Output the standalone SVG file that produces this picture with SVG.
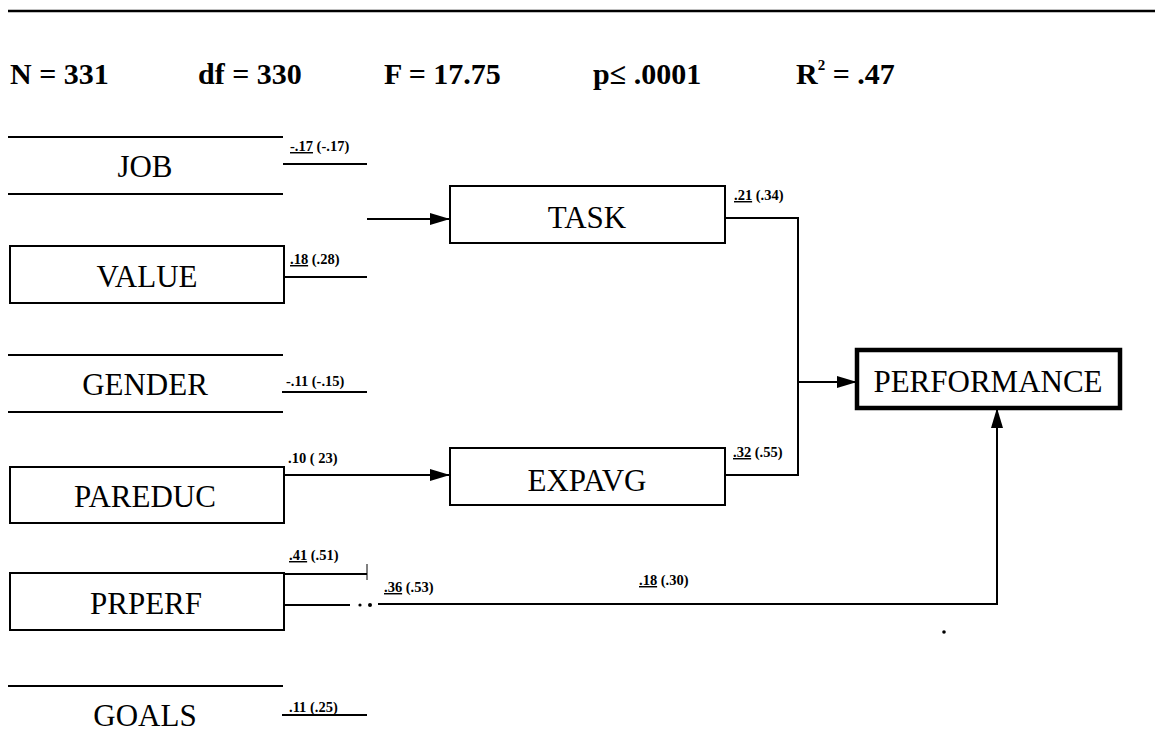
<svg xmlns="http://www.w3.org/2000/svg" width="1155" height="740" viewBox="0 0 1155 740">
<style>
.stat{font-family:"Liberation Serif","Times New Roman",serif;font-weight:bold;font-size:30px;fill:#000}
.node{font-family:"Liberation Serif","Times New Roman",serif;font-size:31px;fill:#000;text-anchor:middle}
.lbl{font-family:"Liberation Serif","Times New Roman",serif;font-weight:bold;font-size:14.5px;fill:#000}
.u{text-decoration:underline}
.ln{stroke:#000;stroke-width:2;fill:none}
.box{stroke:#000;stroke-width:2;fill:#fff}
.light{stroke:#000;stroke-width:1;fill:none}
</style>
<defs>
<marker id="ah" viewBox="0 0 20 12" refX="20" refY="6" markerWidth="20" markerHeight="12" markerUnits="userSpaceOnUse" orient="auto">
<path d="M0,0 L20,6 L0,12 Z" fill="#000"/>
</marker>
</defs>
<rect width="1155" height="740" fill="#fff"/>
<line x1="8" y1="11" x2="1155" y2="11" stroke="#000" stroke-width="2.5"/>
<g id="stats">
<text class="stat" x="10" y="84">N = 331</text>
<text class="stat" x="198" y="84">df = 330</text>
<text class="stat" x="384" y="84">F = 17.75</text>
<text class="stat" x="593" y="84">p≤ .0001</text>
<text class="stat" x="796" y="84">R<tspan font-size="15" dy="-14">2</tspan><tspan dy="14"> = .47</tspan></text>
</g>
<g id="job">
<line class="ln" x1="8" y1="137" x2="283" y2="137"/>
<line class="ln" x1="8" y1="194" x2="283" y2="194"/>
<text class="node" x="145" y="177">JOB</text>
</g>
<g id="value">
<rect class="box" x="10" y="246" width="274" height="57"/>
<text class="node" x="147" y="287">VALUE</text>
</g>
<g id="gender">
<line class="ln" x1="8" y1="355" x2="283" y2="355"/>
<line class="ln" x1="8" y1="412" x2="283" y2="412"/>
<text class="node" x="145" y="395">GENDER</text>
</g>
<g id="pareduc">
<rect class="box" x="10" y="467" width="274" height="56"/>
<text class="node" x="145" y="507">PAREDUC</text>
</g>
<g id="prperf">
<rect class="box" x="10" y="573" width="274" height="57"/>
<text class="node" x="146" y="614">PRPERF</text>
</g>
<g id="goals">
<line class="ln" x1="8" y1="686" x2="283" y2="686"/>
<text class="node" x="145" y="726">GOALS</text>
</g>
<g id="task">
<rect class="box" x="450" y="186" width="275" height="57"/>
<text class="node" x="587" y="228">TASK</text>
</g>
<g id="expavg">
<rect class="box" x="450" y="448" width="275" height="57"/>
<text class="node" x="587" y="491">EXPAVG</text>
</g>
<g id="performance">
<rect x="857" y="350" width="263" height="58" fill="#fff" stroke="#000" stroke-width="4.5"/>
<text class="node" x="988" y="392" font-size="32">PERFORMANCE</text>
</g>
<g id="connectors">
<line class="ln" x1="283" y1="164" x2="367" y2="164"/>
<line class="ln" x1="284" y1="277" x2="367" y2="277"/>
<line class="light" x1="284" y1="256" x2="284" y2="272"/>
<line class="ln" x1="282" y1="392" x2="367" y2="392"/>
<line class="ln" x1="282" y1="715" x2="367" y2="715"/>
<line class="ln" x1="284" y1="574" x2="367" y2="574"/>
<line class="light" x1="367" y1="564" x2="367" y2="580"/>
<line class="ln" x1="367" y1="219" x2="450" y2="219" marker-end="url(#ah)"/>
<line class="ln" x1="283" y1="475" x2="450" y2="475" marker-end="url(#ah)"/>
<polyline class="ln" points="725,218 798,218 798,475 725,475"/>
<line class="ln" x1="798" y1="382" x2="857" y2="382" marker-end="url(#ah)"/>
<line class="ln" x1="284" y1="605" x2="350" y2="605"/>
<circle cx="360" cy="605" r="1.6" fill="#000"/>
<circle cx="370" cy="605" r="2" fill="#000"/>
<polyline class="ln" points="378,604 997,604 997,408" marker-end="url(#ah)"/>
</g>
<g id="labels">
<text class="lbl" x="290" y="151"><tspan class="u">-.17</tspan> (-.17)</text>
<text class="lbl" x="290" y="264"><tspan class="u">.18</tspan> (.28)</text>
<text class="lbl" x="286" y="386">-.11 (-.15)</text>
<text class="lbl" x="288" y="463">.10 ( 23)</text>
<text class="lbl" x="289" y="560"><tspan class="u">.41</tspan> (.51)</text>
<text class="lbl" x="384" y="592"><tspan class="u">.36</tspan> (.53)</text>
<text class="lbl" x="289" y="712">.11 (.25)</text>
<text class="lbl" x="734" y="200"><tspan class="u">.21</tspan> (.34)</text>
<text class="lbl" x="733" y="457"><tspan class="u">.32</tspan> (.55)</text>
<text class="lbl" x="639" y="585"><tspan class="u">.18</tspan> (.30)</text>
</g>
<circle cx="944" cy="632" r="1.8" fill="#000"/>
</svg>
